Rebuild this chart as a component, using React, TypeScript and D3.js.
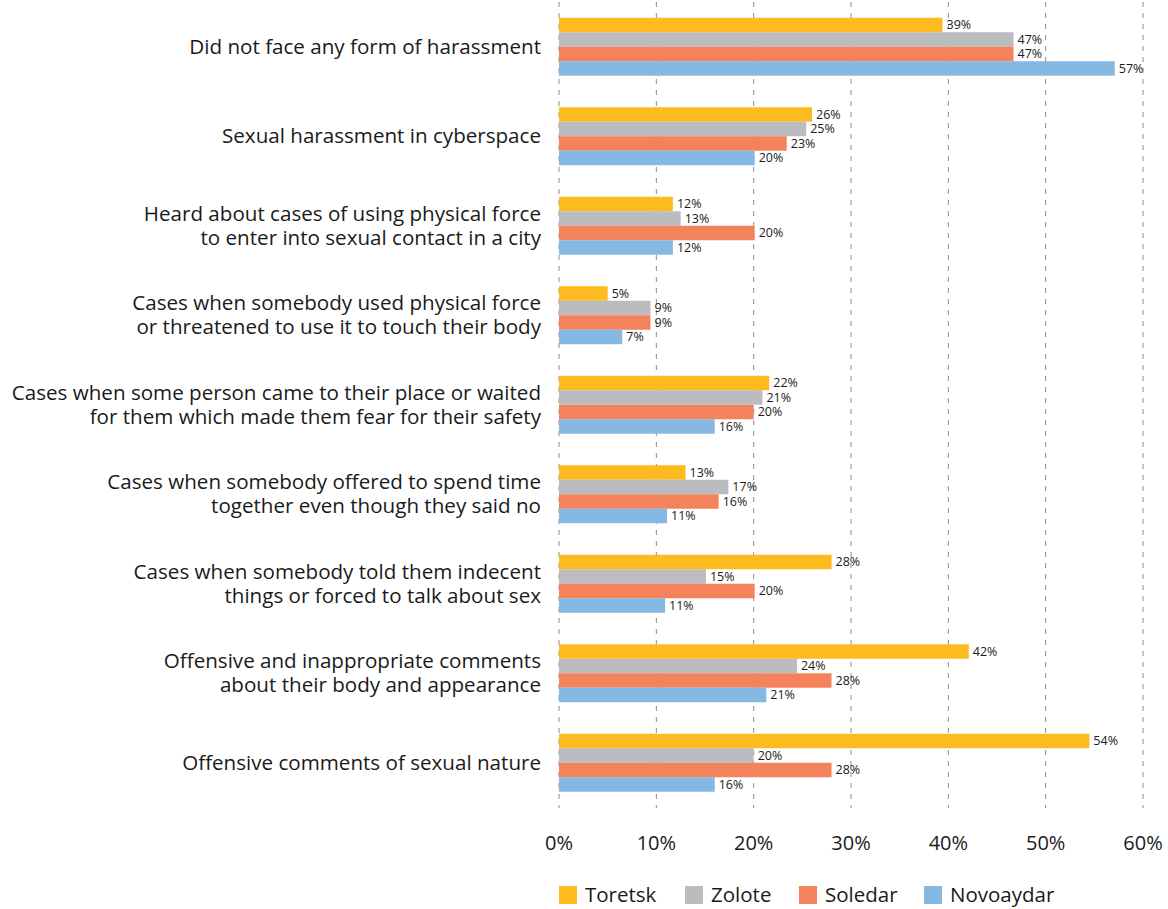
import React from "react";
import * as d3 from "d3";

const categories = [
  "Did not face any form of harassment",
  "Sexual harassment in cyberspace",
  "Heard about cases of using physical force\nto enter into sexual contact in a city",
  "Cases when somebody used physical force\nor threatened to use it to touch their body",
  "Cases when some person came to their place or waited\nfor them which made them fear for their safety",
  "Cases when somebody offered to spend time\ntogether even though they said no",
  "Cases when somebody told them indecent\nthings or forced to talk about sex",
  "Offensive and inappropriate comments\nabout their body and appearance",
  "Offensive comments of sexual nature",
];

const seriesNames = ["Toretsk", "Zolote", "Soledar", "Novoaydar"];
const toretsk = [39.4, 26.0, 11.7, 5.0, 21.6, 13.0, 28.0, 42.1, 54.49];
const zolote = [46.7, 25.4, 12.5, 9.4, 20.9, 17.4, 15.1, 24.45, 20.0];
const soledar = [46.7, 23.4, 20.1, 9.4, 20.0, 16.4, 20.1, 28.0, 28.0];
const novoaydar = [57.1, 20.1, 11.7, 6.5, 16.0, 11.1, 10.9, 21.3, 16.0];
const xTicks = [0, 10, 20, 30, 40, 50, 60];
const colors = ["#FDBB1F", "#BBBCBF", "#F4825A", "#85B8E3"];

const seriesValues = [toretsk, zolote, soledar, novoaydar];

const W = 1168;
const H = 909;
const FONT = "'Open Sans', Lato, sans-serif";

export default function App() {
  const x = d3.scaleLinear().domain([0, 60]).range([559, 1143]);
  const y = d3
    .scaleBand<string>()
    .domain(categories)
    .range([2, 807.5])
    .paddingInner(0.352)
    .paddingOuter(0.176);
  const ySub = d3
    .scaleBand<string>()
    .domain(seriesNames)
    .range([0, y.bandwidth()]);
  const fmt = (v: number) => `${Math.round(v)}%`;

  const legendX = [559, 685, 799, 924];

  return (
    <div style={{ position: "absolute", left: 0, top: 0 }}>
      <svg width={W} height={H} style={{ display: "block", fontFamily: FONT }}>
        <rect x={0} y={0} width={W} height={H} fill="#fff" />
        {/* grid */}
        {xTicks.map((t) => (
          <line
            key={"g" + t}
            x1={x(t)}
            x2={x(t)}
            y1={2}
            y2={808}
            stroke="#8c8c8c"
            strokeWidth={1}
            strokeDasharray="5,6"
          />
        ))}
        {/* bars */}
        {categories.map((c, ci) => (
          <g key={"c" + ci} transform={`translate(0,${y(c)})`}>
            {seriesNames.map((s, si) => {
              const v = seriesValues[si][ci];
              const by = ySub(s) as number;
              const bh = ySub.bandwidth();
              return (
                <g key={s}>
                  <rect x={x(0)} y={by} width={x(v) - x(0)} height={bh} fill={colors[si]} />
                  <text
                    x={x(v) + 4}
                    y={by + bh / 2}
                    dy="0.35em"
                    fontSize={12.5}
                    fill="#1a1a1a"
                  >
                    {fmt(v)}
                  </text>
                </g>
              );
            })}
          </g>
        ))}
        {/* category labels */}
        {categories.map((c, ci) => {
          const lines = c.split("\n");
          const cy = (y(c) as number) + y.bandwidth() / 2;
          const lh = 24;
          const start = cy - ((lines.length - 1) * lh) / 2;
          return (
            <text
              key={"l" + ci}
              x={541}
              textAnchor="end"
              fontSize={20.6}
              fill="#1a1a1a"
            >
              {lines.map((ln, li) => (
                <tspan key={li} x={541} y={start + li * lh} dy="0.35em">
                  {ln}
                </tspan>
              ))}
            </text>
          );
        })}
        {/* x tick labels */}
        {xTicks.map((t) => (
          <text
            key={"t" + t}
            x={x(t)}
            y={843}
            dy="0.35em"
            textAnchor="middle"
            fontSize={20}
            fill="#1a1a1a"
          >
            {d3.format(".0%")(t / 100)}
          </text>
        ))}
        {/* legend */}
        {seriesNames.map((s, si) => (
          <g key={"lg" + s} transform={`translate(${legendX[si]},886)`}>
            <rect x={0} y={0} width={18} height={18} fill={colors[si]} />
            <text x={26} y={9} dy="0.35em" fontSize={20.5} fill="#1a1a1a">
              {s}
            </text>
          </g>
        ))}
      </svg>
    </div>
  );
}
